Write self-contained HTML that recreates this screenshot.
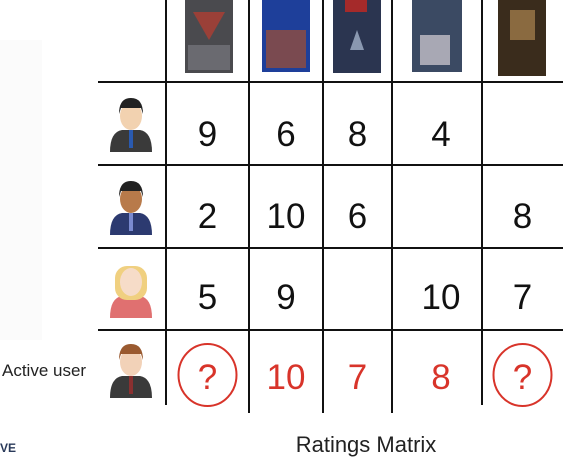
<!DOCTYPE html>
<html><head><meta charset="utf-8"><style>
html,body{margin:0;padding:0;background:#fff;}
svg{display:block;font-family:"Liberation Sans",sans-serif;}
</style></head><body>
<svg width="582" height="462" viewBox="0 0 582 462">
<rect x="0" y="40" width="42" height="300" fill="#fbfbfb"/>
<g id="posters">
 <rect x="185" y="0" width="48" height="73" fill="#4a4a4e"/>
 <path d="M193 12 L225 12 L209 40 Z" fill="#9a4038"/>
 <rect x="188" y="45" width="42" height="25" fill="#6a6a70"/>
 <rect x="262" y="0" width="48" height="72" fill="#1e3f9a"/>
 <rect x="266" y="30" width="40" height="38" fill="#7a4a50"/>
 <rect x="333" y="0" width="48" height="73" fill="#2b3550"/>
 <rect x="345" y="0" width="22" height="12" fill="#a52a2a"/>
 <path d="M357 30 L364 50 L350 50 Z" fill="#8a98b0"/>
 <rect x="412" y="0" width="50" height="72" fill="#3b4a63"/>
 <rect x="420" y="35" width="30" height="30" fill="#a8a8b4"/>
 <rect x="498" y="0" width="48" height="76" fill="#3a2c1c"/>
 <rect x="510" y="10" width="25" height="30" fill="#8a6a40"/>
</g>
<g id="grid" stroke="#111" stroke-width="2"></g>
<g id="avatars"></g>
<g id="cells"></g>
<text x="2" y="376" font-size="17" fill="#222">Active user</text>
<text x="0" y="452" font-size="12" fill="#2a3a5a" font-weight="bold">VE</text>
<text x="366" y="452" font-size="22" fill="#222" text-anchor="middle">Ratings Matrix</text>
</svg>
<script>
const users = ["user-1","user-2","user-3","active-user"];
const movies = ["batman-v-superman","guardians","civil-war","x-men","dark-knight"];
const row1 = [9,6,8,4,null];
const row2 = [2,10,6,null,8];
const row3 = [5,9,null,10,7];
const row4 = ["?",10,7,8,"?"];
const ratings = [row1,row2,row3,row4];

const NS="http://www.w3.org/2000/svg";
const colX=[166,249,323,392,482,563];
const rowY=[82,165,248,330,410];
function mk(t,a,p){const e=document.createElementNS(NS,t);for(const k in a)e.setAttribute(k,a[k]);p.appendChild(e);return e;}
const grid=document.getElementById('grid');
[82,165,248,330].forEach(y=>{
  const l=mk('line',{x1:98,x2:563,y1:y,y2:y},grid);
  
  
});
colX.slice(0,5).forEach((x,i)=>{
  const l=mk('line',{x1:x,x2:x,y1:0,y2:i===0||i===4?405:413},grid);
  
  
});

const av=document.getElementById('avatars');
const avStyles=[{hair:"#222",face:"#f2d2b0",body:"#3a3a3a",tie:"#2a5ab0"},{hair:"#222",face:"#b87a4a",body:"#2c3a70",tie:"#7a8ad0"},{hair:"#f0d080",face:"#f6dcc8",body:"#e07070",tie:null},{hair:"#9a5a30",face:"#f2d2b8",body:"#3a3a3a",tie:"#8a3030"}];
users.forEach((u,i)=>{
  const cy=rowY[i]+ (i===3?40:42);const s=avStyles[i];
  const g=mk('g',{},av);
  
  
  mk('path',{d:`M110 ${cy+28} Q110 ${cy+8} 122 ${cy+6} L140 ${cy+6} Q152 ${cy+8} 152 ${cy+28} Z`,fill:s.body},g);
  if(s.tie) mk('rect',{x:129,y:cy+6,width:4,height:18,fill:s.tie},g);
  if(i===2) mk('rect',{x:115,y:cy-24,width:32,height:34,rx:12,fill:s.hair},g);
  mk('ellipse',{cx:131,cy:cy-8,rx:11,ry:14,fill:s.face},g);
  if(i!==2) mk('path',{d:`M119 ${cy-10} Q119 ${cy-26} 131 ${cy-26} Q143 ${cy-26} 143 ${cy-10} L141 ${cy-16} L121 ${cy-16} Z`,fill:s.hair},g);
});

const cells=document.getElementById('cells');
const baseY=[146,228,309,389];
ratings.forEach((row,r)=>{
  row.forEach((v,c)=>{
    if(v===null) return;
    const cx=(colX[c]+colX[c+1])/2 + (c===3?4:0);
    const red = r===3;
    const t=mk('text',{x:cx,y:baseY[r],'font-size':35,'text-anchor':'middle',fill:red?'#d8342a':'#111'},cells);
    t.textContent=v;
    
    
    if(v==="?"){
      const e=mk('ellipse',{cx:cx,cy:baseY[r]-14,rx:29,ry:31,fill:'none',stroke:'#d8342a','stroke-width':2},cells);
      
      
    }
  });
});
</script>
</body></html>
